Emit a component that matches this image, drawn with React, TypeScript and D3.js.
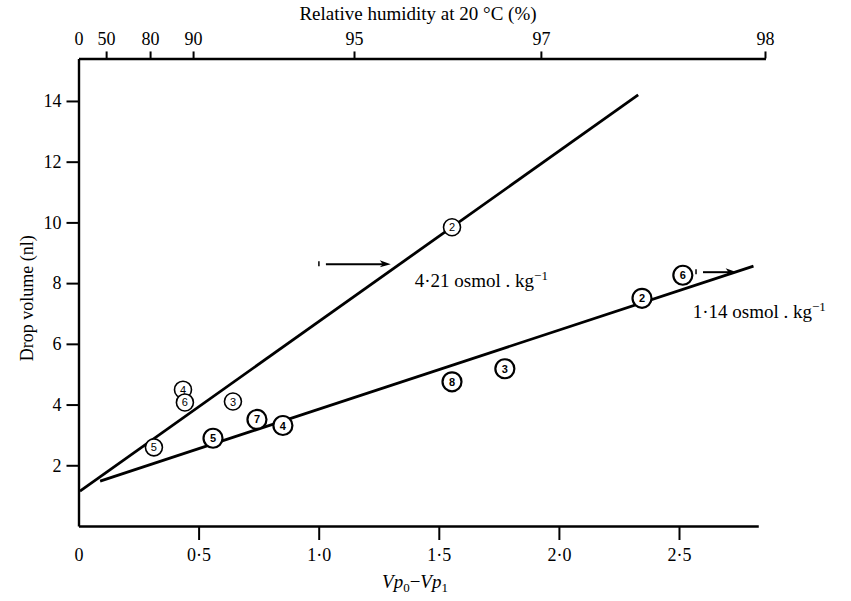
import React, { useEffect, useRef } from "react";
import * as d3 from "d3";

// bottom axis (Vp0 - Vp1) and left axis (drop volume, nl)
const xTicks = [0, 0.5, 1.0, 1.5, 2.0, 2.5];
const yTicks = [2, 4, 6, 8, 10, 12, 14];

// top axis: relative humidity labels and the Vp0-Vp1 value they sit at
const rhLabels = ["0", "50", "80", "90", "95", "97", "98"];
const rhAtX = [0, 0.115, 0.298, 0.477, 1.147, 1.925, 2.858];

// 4.21 osmol/kg series
const highLabels = ["5", "4", "6", "3", "2"];
const highX = [0.314, 0.435, 0.443, 0.643, 1.555];
const highY = [2.59, 4.49, 4.07, 4.1, 9.84];

// 1.14 osmol/kg series
const lowLabels = ["5", "7", "4", "8", "3", "2", "6"];
const lowX = [0.56, 0.743, 0.851, 1.555, 1.775, 2.346, 2.516];
const lowY = [2.89, 3.51, 3.31, 4.75, 5.18, 7.5, 8.26];

// fitted lines
const highLine: [number, number][] = [[0.006, 1.15], [2.33, 14.2]];
const lowLine: [number, number][] = [[0.09, 1.48], [2.81, 8.56]];

// "1" arrows
const arrowStartX = [1.03, 2.6];
const arrowEndX = [1.3, 2.74];
const arrowY = [8.62, 8.36];

const seriesNames = ["4·21 osmol . kg", "1·14 osmol . kg"];
const seriesLabelX = [1.4, 2.557];
const seriesLabelY = [7.87, 6.85];

const FONT = "'Liberation Serif', 'Times New Roman', serif";

export default function App() {
  const ref = useRef<SVGSVGElement>(null);

  useEffect(() => {
    const width = 851;
    const height = 601;
    const svg = d3.select(ref.current).attr("width", width).attr("height", height).html("");

    const x = d3.scaleLinear().domain([0, 2.83]).range([78.5, 78.5 + 2.83 * 240.2]);
    const y = d3.scaleLinear().domain([0, 15.4]).range([526, 526 - 15.4 * 30.36]);
    const xTop = d3.scaleLinear().domain([0, 2.86]).range([x(0), x(2.86)]);

    const fmt = (d: number) => (d === 0 ? "0" : d3.format(".1f")(d).replace(".", "·"));

    // bottom axis
    const gx = svg.append("g")
      .attr("transform", `translate(0,${y(0)})`)
      .call(d3.axisBottom(x).tickValues(xTicks).tickFormat(fmt as any).tickSize(14).tickSizeOuter(0).tickPadding(8));
    gx.selectAll(".tick line").filter((d: any) => d === 0).remove();

    // left axis
    svg.append("g")
      .attr("transform", `translate(${x(0)},0)`)
      .call(d3.axisLeft(y).tickValues(yTicks).tickSize(12).tickSizeOuter(0).tickPadding(5));

    // top axis
    const gt = svg.append("g")
      .attr("transform", `translate(0,${y(15.4)})`)
      .call(d3.axisTop(xTop).tickValues(rhAtX).tickFormat((_, i) => rhLabels[i]).tickSize(7).tickSizeOuter(0).tickPadding(6));
    gt.selectAll(".tick line").filter((d: any) => d === 0).remove();

    svg.selectAll(".domain").attr("stroke", "#000").attr("stroke-width", 2.4);
    svg.selectAll(".tick line").attr("stroke", "#000").attr("stroke-width", 2);
    svg.selectAll(".tick text")
      .attr("fill", "#000")
      .style("font-family", FONT)
      .style("font-size", "18px");

    // fitted lines
    const line = d3.line<[number, number]>().x(d => x(d[0])).y(d => y(d[1]));
    [highLine, lowLine].forEach(l => {
      svg.append("path")
        .attr("d", line(l))
        .attr("fill", "none")
        .attr("stroke", "#000")
        .attr("stroke-width", 2.8);
    });

    // arrows
    arrowY.forEach((ay, i) => {
      const x0 = x(arrowStartX[i]);
      const x1 = x(arrowEndX[i]);
      const yy = y(ay);
      svg.append("line")
        .attr("x1", x0 - 7).attr("x2", x0 - 7)
        .attr("y1", yy - 3).attr("y2", yy + 2)
        .attr("stroke", "#000").attr("stroke-width", 1.5);
      svg.append("line")
        .attr("x1", x0).attr("x2", x1 - 6)
        .attr("y1", yy).attr("y2", yy)
        .attr("stroke", "#000").attr("stroke-width", 2);
      svg.append("path")
        .attr("d", `M${x1},${yy} L${x1 - 11},${yy - 4} L${x1 - 8},${yy} L${x1 - 11},${yy + 3} Z`)
        .attr("fill", "#000");
    });

    // data circles
    const drawPoints = (xs: number[], ys: number[], labels: string[], r: number, sw: number, bold: boolean) => {
      const g = svg.append("g");
      xs.forEach((xv, i) => {
        g.append("circle")
          .attr("cx", x(xv)).attr("cy", y(ys[i])).attr("r", r)
          .attr("fill", "#fff").attr("stroke", "#000").attr("stroke-width", sw);
        g.append("text")
          .attr("x", x(xv)).attr("y", y(ys[i]))
          .attr("text-anchor", "middle")
          .attr("dominant-baseline", "central")
          .style("font-family", "'Liberation Sans', Arial, sans-serif")
          .style("font-size", "11px")
          .style("font-weight", bold ? "bold" : "normal")
          .text(labels[i]);
      });
    };
    drawPoints(highX, highY, highLabels, 8.5, 1.6, false);
    drawPoints(lowX, lowY, lowLabels, 9.5, 2.2, true);

    // series labels
    seriesNames.forEach((name, i) => {
      const t = svg.append("text")
        .attr("x", x(seriesLabelX[i]))
        .attr("y", y(seriesLabelY[i]))
        .style("font-family", FONT)
        .style("font-size", "19px");
      t.append("tspan").text(name);
      t.append("tspan").attr("dy", -7).style("font-size", "13px").text("−1");
    });

    // axis titles
    svg.append("text")
      .attr("transform", `translate(33,${y(7.5)}) rotate(-90)`)
      .attr("text-anchor", "middle")
      .style("font-family", FONT)
      .style("font-size", "18px")
      .text("Drop volume (nl)");

    svg.append("text")
      .attr("x", 418)
      .attr("y", 20)
      .attr("text-anchor", "middle")
      .style("font-family", FONT)
      .style("font-size", "19px")
      .text("Relative humidity at 20 °C (%)");

    const xl = svg.append("text")
      .attr("x", 415)
      .attr("y", 588)
      .attr("text-anchor", "middle")
      .style("font-family", FONT)
      .style("font-size", "19px");
    xl.append("tspan").style("font-style", "italic").text("Vp");
    xl.append("tspan").attr("dy", 4).style("font-size", "13px").text("0");
    xl.append("tspan").attr("dy", -4).text("−");
    xl.append("tspan").style("font-style", "italic").text("Vp");
    xl.append("tspan").attr("dy", 4).style("font-size", "13px").text("1");
  }, []);

  return (
    <svg
      ref={ref}
      style={{ position: "absolute", left: 0, top: 0, background: "#fff" }}
    />
  );
}
